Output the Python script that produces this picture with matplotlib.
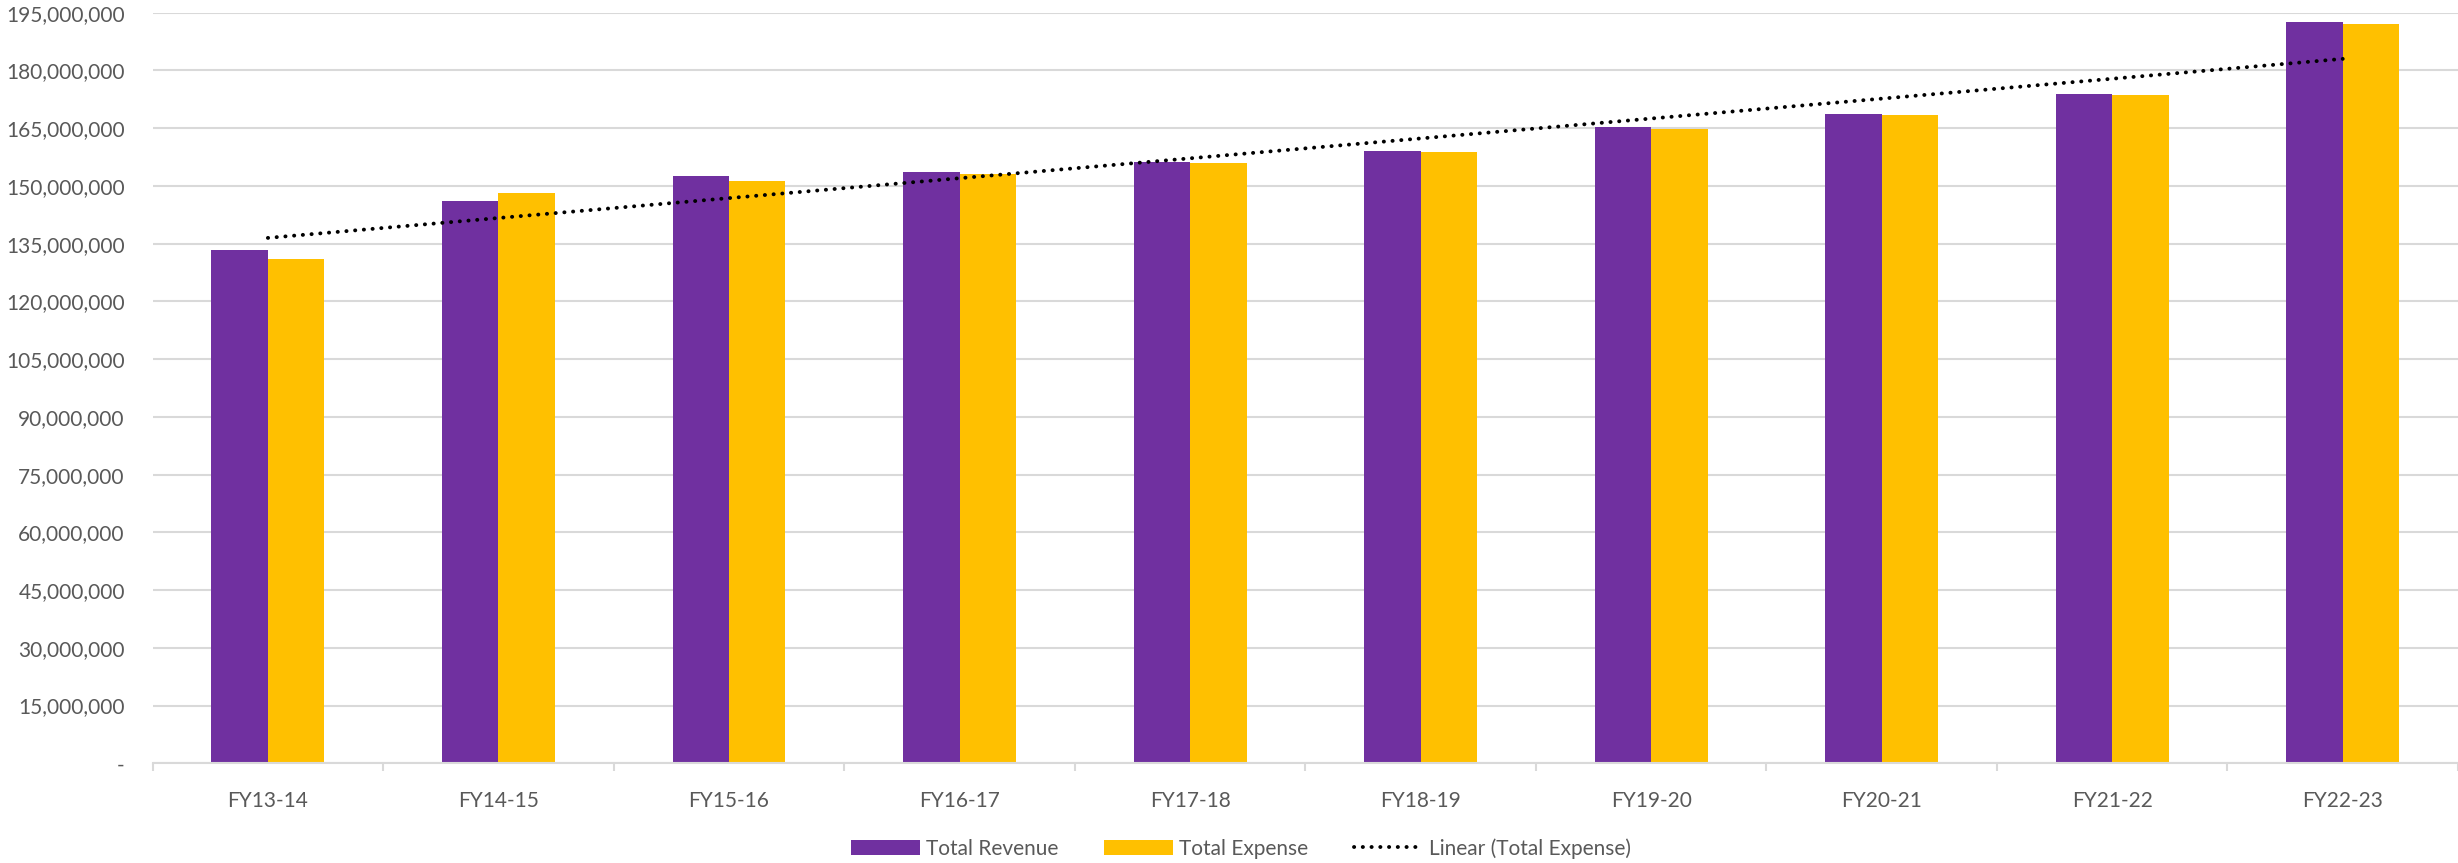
import matplotlib
matplotlib.use("Agg")
import matplotlib.pyplot as plt
import numpy as np
from matplotlib.ticker import FuncFormatter, FixedLocator

# fiscal years and totals (USD)
years = ["FY13-14", "FY14-15", "FY15-16", "FY16-17", "FY17-18",
         "FY18-19", "FY19-20", "FY20-21", "FY21-22", "FY22-23"]
revenue = [133.3e6, 146.0e6, 152.5e6, 153.6e6, 156.3e6,
           159.0e6, 165.3e6, 168.8e6, 173.8e6, 192.7e6]
expense = [130.9e6, 148.2e6, 151.3e6, 153.2e6, 155.9e6,
           158.9e6, 164.9e6, 168.5e6, 173.6e6, 192.1e6]

purple = "#7030A0"
gold = "#FFC000"
grey_text = "#595959"
grid_col = "#D9D9D9"

plt.rcParams["font.family"] = ["Lato", "DejaVu Sans"]

fig = plt.figure(figsize=(24.58, 8.63), dpi=100)
ax = fig.add_axes([0.0621, 0.1155, 0.9379, 0.8698])

x = np.arange(len(years))
w = 0.245
rev_bars = ax.bar(x - w, revenue, width=w, align="edge", color=purple, label="Total Revenue", zorder=2)
exp_bars = ax.bar(x, expense, width=w, align="edge", color=gold, label="Total Expense", zorder=2)

# linear trendline through the expense series
m, b = np.polyfit(x, expense, 1)
trend, = ax.plot(x[[0, -1]], m * x[[0, -1]] + b, color="black", lw=2.8,
                 linestyle=(0, (0.05, 2.2)), dash_capstyle="round",
                 label="Linear (Total Expense)", zorder=3)

ax.set_xlim(-0.5, len(years) - 0.5)
ax.set_ylim(0, 195e6)
ax.set_yticks(np.arange(0, 195e6 + 1, 15e6))
ax.yaxis.set_major_formatter(FuncFormatter(lambda v, p: "-" if v == 0 else f"{v:,.0f}"))
ax.grid(axis="y", color=grid_col, lw=1.5, zorder=0)

ax.set_xticks(x)
ax.set_xticklabels(years)
ax.xaxis.set_minor_locator(FixedLocator(np.arange(-0.5, len(years), 1.0)))
ax.tick_params(axis="x", which="major", length=0, pad=20, labelsize=15, labelcolor=grey_text)
ax.tick_params(axis="x", which="minor", length=6, width=1.5, color=grid_col)
ax.tick_params(axis="y", length=0, pad=20, labelsize=15, labelcolor=grey_text)

for s in ["top", "right", "left"]:
    ax.spines[s].set_visible(False)
ax.spines["bottom"].set_color(grid_col)
ax.spines["bottom"].set_linewidth(1.5)

leg = fig.legend(handles=[rev_bars, exp_bars, trend],
                 loc="center", bbox_to_anchor=(0.505, 0.017), ncol=3, frameon=False,
                 fontsize=15, handlelength=3.3, handleheight=0.7, handletextpad=0.3,
                 columnspacing=2.2)
for t in leg.get_texts():
    t.set_color(grey_text)

fig.savefig("out.png", dpi=100)
